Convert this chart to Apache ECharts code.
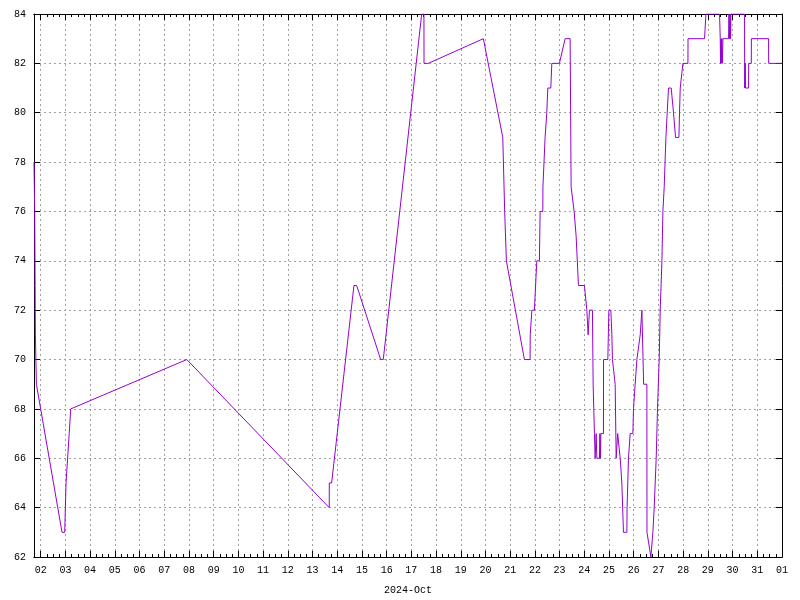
<!DOCTYPE html>
<html><head><meta charset="utf-8">
<script src="https://cdn.jsdelivr.net/npm/echarts/dist/echarts.min.js"></script>
<style>html,body{margin:0;padding:0;background:#fff}#c{width:800px;height:600px}</style>
</head><body><div id="c"></div>
<script>
// time in fractional days of October 2024 (32 = Nov 1 00:00)
const days = [
  1.729,1.757,1.785,1.826,1.891,2.863,2.972,3.025,3.154,3.215,
  7.913,13.677,13.680,13.774,14.677,14.787,15.759,15.864,17.419,17.510,
  17.513,17.687,19.914,19.955,20.700,20.765,20.777,20.805,20.846,21.575,
  21.806,21.810,21.874,21.878,21.980,22.077,22.182,22.211,22.320,22.325,
  22.413,22.482,22.522,22.644,22.684,22.992,23.223,23.426,23.466,23.507,
  23.588,23.669,23.762,24.005,24.102,24.155,24.208,24.329,24.357,24.410,
  24.438,24.479,24.507,24.613,24.629,24.653,24.669,24.774,24.778,24.952,
  24.993,25.074,25.115,25.139,25.208,25.248,25.289,25.342,25.350,25.423,
  25.451,25.519,25.584,25.722,25.730,25.787,25.856,25.965,25.990,26.058,
  26.127,26.192,26.261,26.330,26.394,26.400,26.532,26.536,26.597,26.694,
  26.747,26.775,26.828,26.868,26.909,26.962,27.030,27.071,27.140,27.180,
  27.233,27.302,27.354,27.407,27.516,27.610,27.691,27.828,27.852,27.881,
  27.950,27.990,28.193,28.197,28.865,28.922,29.473,29.501,29.513,29.530,
  29.542,29.562,29.582,29.610,29.837,29.853,29.878,29.894,29.918,29.934,
  30.485,30.489,30.513,30.525,30.647,30.651,30.757,30.761,31.457,31.461,
  32.000
];
const values = [
  78,76,71,69,69,63,63,65,67,68,
  70,64,65,65,73,73,70,70,84,84,
  82,82,83,83,79,79,76,76,74,70,
  70,71,71,72,72,74,74,76,76,77,
  79,80,81,81,82,82,83,83,77,77,
  76,75,73,73,72,71,72,72,69,67,
  66,67,66,66,67,66,67,67,70,70,
  72,72,71,70,70,69,66,66,67,67,
  66,65,63,63,64,66,67,67,68,69,
  70,70,71,72,72,69,69,63,63,62,
  62,63,64,65,66,68,70,72,74,76,
  77,79,79,81,81,80,79,79,80,81,
  81,82,82,83,83,84,84,83,82,83,
  82,83,82,83,83,84,83,84,83,84,
  84,81,82,81,81,82,82,83,83,82,
  82
];
const xTickDays = [2,3,4,5,6,7,8,9,10,11,12,13,14,15,16,17,18,19,20,21,22,23,24,25,26,27,28,29,30,31,32];
const xTickLabels = ['02','03','04','05','06','07','08','09','10','11','12','13','14','15','16','17','18','19','20','21','22','23','24','25','26','27','28','29','30','31','01'];
const xAxisName = '2024-Oct';
const yMin = 62, yMax = 84, yStep = 2;

const xMin = days[0], xMax = days[days.length - 1];
const minorTicks = [];
for (let q = Math.ceil(xMin * 4); q <= xMax * 4; q++) {
  if (q % 4 !== 0) minorTicks.push(q / 4);
}
const font = 'Liberation Mono';
const grey = {color: '#a0a0a0', width: 1, type: [2, 3]};
const black = {color: '#000', width: 1};

function xAx(pos, tickVals, len, extra) {
  return Object.assign({
    type: 'value', position: pos, min: xMin, max: xMax,
    axisLine: {show: true, onZero: false, lineStyle: black},
    axisTick: {show: true, inside: true, length: len, customValues: tickVals, lineStyle: black},
    axisLabel: {show: false},
    splitLine: {show: false}
  }, extra || {});
}

const chart = echarts.init(document.getElementById('c'), null, {renderer: 'canvas'});
chart.setOption({
  animation: false,
  backgroundColor: '#fff',
  grid: {left: 34, right: 18, top: 14, bottom: 42, containLabel: false},
  xAxis: [
    xAx('bottom', xTickDays, 6, {
      name: xAxisName, nameLocation: 'middle', nameGap: 28,
      nameTextStyle: {fontFamily: font, fontSize: 10, color: '#000'},
      axisLabel: {show: true, customValues: xTickDays, margin: 8, fontFamily: font, fontSize: 10, color: '#000',
        formatter: v => xTickLabels[xTickDays.indexOf(Math.round(v))] || ''},
      splitLine: {show: true, lineStyle: grey}
    }),
    xAx('bottom', minorTicks, 3),
    xAx('top', xTickDays, 6),
    xAx('top', minorTicks, 3)
  ],
  yAxis: [
    {type: 'value', position: 'left', min: yMin, max: yMax, interval: yStep,
      axisLine: {show: true, lineStyle: black},
      axisTick: {show: true, inside: true, length: 6, lineStyle: black},
      axisLabel: {show: true, margin: 8, fontFamily: font, fontSize: 10, color: '#000'},
      splitLine: {show: true, lineStyle: grey}},
    {type: 'value', position: 'right', min: yMin, max: yMax, interval: yStep,
      axisLine: {show: true, lineStyle: black},
      axisTick: {show: true, inside: true, length: 6, lineStyle: black},
      axisLabel: {show: false},
      splitLine: {show: false}}
  ],
  series: [{
    type: 'line', xAxisIndex: 0, yAxisIndex: 0,
    data: days.map((d, i) => [d, values[i]]),
    showSymbol: false, symbol: 'none',
    lineStyle: {color: '#9400d3', width: 1},
    clip: true
  }]
});
</script></body></html>
